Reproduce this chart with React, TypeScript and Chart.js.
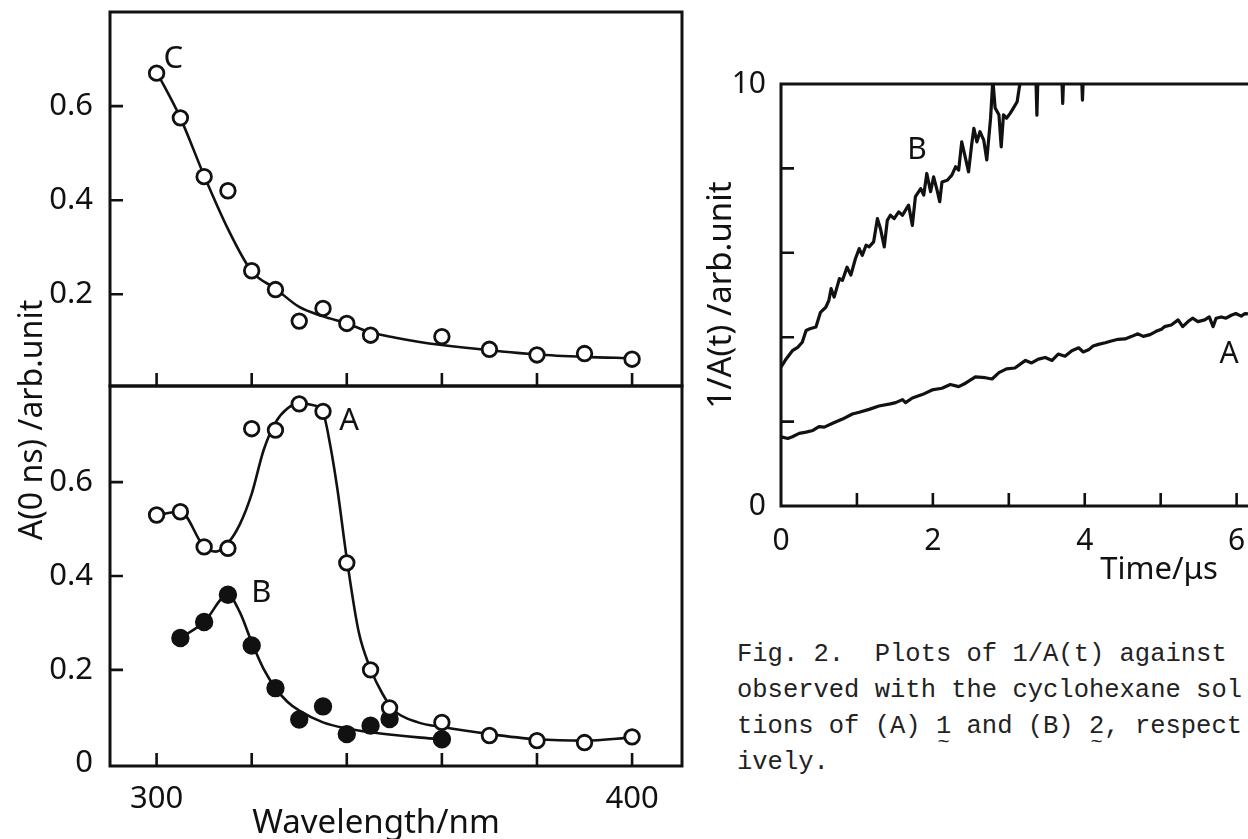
import React, { useEffect, useRef } from 'react';
import { Chart, registerables } from 'chart.js';

Chart.register(...registerables);

const FONT = "'Noto Sans', 'DejaVu Sans', sans-serif";
const INK = '#111';

// ---------- Left, upper panel: curve C ----------
const C_WAVELENGTH = [300, 305, 310, 315, 320, 325, 330, 335, 340, 345, 360, 370, 380, 390, 400];
const C_ABS = [0.67, 0.575, 0.45, 0.42, 0.25, 0.21, 0.143, 0.17, 0.138, 0.113, 0.11, 0.083, 0.071, 0.074, 0.062];
const C_FIT_WAVELENGTH = [300, 305, 310, 315, 320, 325, 330, 335, 340, 345, 350, 355, 360, 370, 380, 390, 400];
const C_FIT_ABS = [0.673, 0.575, 0.452, 0.339, 0.249, 0.212, 0.173, 0.153, 0.138, 0.119, 0.108, 0.099, 0.092, 0.081, 0.072, 0.067, 0.064];

// ---------- Left, lower panel: curves A (open) and B (filled) ----------
const A_WAVELENGTH = [300, 305, 310, 315, 320, 325, 330, 335, 340, 345, 349, 360, 370, 380, 390, 400];
const A_ABS = [0.53, 0.537, 0.462, 0.459, 0.714, 0.711, 0.767, 0.751, 0.428, 0.2, 0.119, 0.088, 0.06, 0.049, 0.045, 0.057];
const A_FIT_WAVELENGTH = [300, 305, 310, 312.5, 315, 317.5, 320, 322.5, 325, 327.5, 330, 332.5, 335, 336.5, 338, 340, 342.5, 345, 347.5, 350, 355, 360, 370, 380, 390, 400];
const A_FIT_ABS = [0.53, 0.537, 0.462, 0.452, 0.47, 0.51, 0.575, 0.668, 0.727, 0.757, 0.768, 0.765, 0.748, 0.68, 0.587, 0.437, 0.281, 0.202, 0.149, 0.113, 0.088, 0.078, 0.063, 0.052, 0.049, 0.056];

const B_WAVELENGTH = [305, 310, 315, 320, 325, 330, 335, 340, 345, 349, 360];
const B_ABS = [0.268, 0.302, 0.36, 0.252, 0.161, 0.094, 0.122, 0.063, 0.081, 0.095, 0.052];
const B_FIT_WAVELENGTH = [305, 310, 315, 317.5, 320, 322.5, 325, 327.5, 330, 335, 340, 345, 350, 355, 360];
const B_FIT_ABS = [0.268, 0.302, 0.36, 0.323, 0.259, 0.202, 0.161, 0.132, 0.113, 0.088, 0.075, 0.067, 0.061, 0.056, 0.052];

const WL_TICKS = [300, 320, 340, 360, 380, 400];
const WL_LABELS = [300, 400];
const ABS_MARKS = [0.2, 0.4, 0.6];
const ABS_LABELS_TOP = [0.2, 0.4, 0.6];
const ABS_LABELS_BOTTOM = [0, 0.2, 0.4, 0.6];

// ---------- Right panel: 1/A(t) vs time ----------
const TIME_A = [0, 0.09, 0.15, 0.24, 0.33, 0.42, 0.5, 0.57, 0.68, 0.81, 0.94, 1.03, 1.16, 1.29, 1.44, 1.51, 1.6, 1.64, 1.73, 1.86, 1.99, 2.12, 2.23, 2.34, 2.43, 2.56, 2.69, 2.78, 2.87, 2.97, 3.08, 3.22, 3.3, 3.39, 3.48, 3.57, 3.65, 3.74, 3.83, 3.92, 3.98, 4.05, 4.11, 4.18, 4.27, 4.35, 4.44, 4.53, 4.62, 4.7, 4.77, 4.86, 4.94, 5.01, 5.05, 5.14, 5.23, 5.29, 5.36, 5.42, 5.49, 5.58, 5.64, 5.69, 5.73, 5.8, 5.86, 5.93, 5.99, 6.06, 6.11, 6.15];
const INV_A = [1.64, 1.6, 1.64, 1.72, 1.75, 1.79, 1.88, 1.87, 1.96, 2.06, 2.18, 2.22, 2.29, 2.37, 2.42, 2.45, 2.52, 2.45, 2.56, 2.64, 2.75, 2.79, 2.88, 2.83, 2.91, 3.06, 3.04, 3.01, 3.16, 3.25, 3.27, 3.45, 3.39, 3.48, 3.52, 3.45, 3.6, 3.55, 3.68, 3.75, 3.65, 3.7, 3.79, 3.83, 3.87, 3.91, 3.95, 3.96, 4.02, 4.08, 4.02, 4.06, 4.14, 4.19, 4.25, 4.29, 4.41, 4.25, 4.37, 4.45, 4.37, 4.41, 4.48, 4.25, 4.45, 4.48, 4.45, 4.52, 4.56, 4.5, 4.56, 4.55];

const TIME_B = [0, 0.07, 0.15, 0.22, 0.28, 0.33, 0.38, 0.46, 0.52, 0.59, 0.63, 0.66, 0.7, 0.77, 0.81, 0.87, 0.92, 0.98, 1.03, 1.07, 1.12, 1.16, 1.22, 1.27, 1.31, 1.36, 1.4, 1.44, 1.49, 1.55, 1.6, 1.64, 1.68, 1.73, 1.77, 1.84, 1.88, 1.92, 1.97, 2.01, 2.06, 2.09, 2.12, 2.19, 2.25, 2.3, 2.34, 2.38, 2.43, 2.47, 2.51, 2.54, 2.58, 2.62, 2.67, 2.71, 2.76, 2.79, 2.82, 2.87, 2.9, 2.93, 2.97, 3.02, 3.06, 3.11, 3.13, 3.15, 3.2, 3.35, 3.37, 3.39, 3.69, 3.71, 3.73, 3.95, 3.97, 3.99, 4.1];
const INV_B = [3.29, 3.49, 3.68, 3.76, 3.88, 4.16, 4.2, 4.24, 4.59, 4.71, 4.87, 5.15, 4.95, 5.39, 5.35, 5.66, 5.47, 5.86, 6.1, 5.94, 6.18, 6.14, 6.26, 6.81, 6.57, 6.14, 6.77, 6.89, 6.81, 6.97, 6.89, 7.01, 7.13, 6.65, 7.33, 7.52, 7.37, 7.88, 7.45, 7.8, 7.45, 7.21, 7.68, 7.72, 7.84, 8.04, 7.96, 8.63, 8.24, 7.92, 8.55, 8.95, 8.63, 8.87, 8.67, 8.2, 9.19, 10.1, 9.43, 9.27, 8.51, 9.27, 9.19, 9.31, 9.43, 9.58, 9.82, 10.05, 10.6, 10.6, 9.26, 10.6, 10.6, 9.54, 10.6, 10.6, 9.62, 10.6, 10.8];

const TIME_MARKS = [1, 2, 3, 4, 5, 6];
const TIME_LABELS = [0, 2, 4, 6];
const INV_MARKS = [2, 4, 6, 8];
const INV_LABELS = [0, 10];

// in-plot curve labels (data coordinates)
const TOP_CURVE_LABELS = [{ text: 'C', x: 303.5, y: 0.7 }];
const BOTTOM_CURVE_LABELS = [
  { text: 'A', x: 340.5, y: 0.73 },
  { text: 'B', x: 322, y: 0.363 },
];
const RIGHT_CURVE_LABELS = [
  { text: 'B', x: 1.79, y: 8.42 },
  { text: 'A', x: 5.9, y: 3.58 },
];

const pts = (xs: number[], ys: number[]) => xs.map((x, i) => ({ x, y: ys[i] }));

type Label = { text: string; x: number; y: number };
type Free = { text: string; px: number; py: number; size: number; rot?: number };
type Deco = {
  xMarks: number[];
  yMarks: number[];
  markLen: number;
  box: 'full' | 'open';
  labels: Label[];
  labelSize: number;
  free: Free[];
};

function decoPlugin(d: Deco) {
  return {
    id: 'deco',
    afterDatasetsDraw(chart: any) {
      const { ctx, chartArea: a, scales } = chart;
      const xs = scales.x;
      const ys = scales.y;
      ctx.save();
      ctx.strokeStyle = INK;
      ctx.lineWidth = 3;
      ctx.lineCap = 'square';
      ctx.beginPath();
      if (d.box === 'full') {
        ctx.rect(a.left, a.top, a.right - a.left, a.bottom - a.top);
      } else {
        ctx.moveTo(a.right + 4, a.top);
        ctx.lineTo(a.left, a.top);
        ctx.lineTo(a.left, a.bottom);
        ctx.lineTo(a.right + 4, a.bottom);
      }
      ctx.stroke();
      ctx.lineWidth = 2.6;
      ctx.lineCap = 'butt';
      ctx.beginPath();
      for (const v of d.xMarks) {
        const p = xs.getPixelForValue(v);
        ctx.moveTo(p, a.bottom);
        ctx.lineTo(p, a.bottom - d.markLen);
      }
      for (const v of d.yMarks) {
        const p = ys.getPixelForValue(v);
        ctx.moveTo(a.left, p);
        ctx.lineTo(a.left + d.markLen, p);
      }
      ctx.stroke();
      ctx.fillStyle = INK;
      ctx.textAlign = 'center';
      ctx.textBaseline = 'middle';
      ctx.font = `${d.labelSize}px ${FONT}`;
      for (const t of d.labels) {
        ctx.fillText(t.text, xs.getPixelForValue(t.x), ys.getPixelForValue(t.y));
      }
      for (const t of d.free) {
        ctx.save();
        ctx.translate(t.px, t.py);
        if (t.rot) ctx.rotate(t.rot);
        ctx.font = `${t.size}px ${FONT}`;
        ctx.fillText(t.text, 0, 0);
        ctx.restore();
      }
      ctx.restore();
    },
  };
}

const fmtAbs = (v: number) => (v === 0 ? '0' : v.toFixed(1));

function yAxis(min: number, max: number, labels: number[], width: number, pad: number, size: number, fmt: (v: number) => string, extra: any = {}) {
  return {
    type: 'linear',
    min,
    max,
    afterFit: (s: any) => {
      s.width = width;
      s.paddingTop = 0;
      s.paddingBottom = 0;
    },
    afterBuildTicks: (s: any) => {
      s.ticks = labels.map((v) => ({ value: v }));
    },
    grid: { display: false, drawTicks: false },
    border: { display: false },
    ticks: { padding: pad, color: INK, font: { family: FONT, size }, autoSkip: false, callback: (v: any) => fmt(Number(v)) },
    ...extra,
  };
}

function xAxis(min: number, max: number, labels: number[], height: number, pad: number, size: number) {
  return {
    type: 'linear',
    min,
    max,
    afterFit: (s: any) => {
      s.height = height;
      s.paddingLeft = 0;
      s.paddingRight = 0;
    },
    afterBuildTicks: (s: any) => {
      s.ticks = labels.map((v) => ({ value: v }));
    },
    grid: { display: false, drawTicks: false },
    border: { display: false },
    ticks: { padding: pad, color: INK, font: { family: FONT, size }, autoSkip: false, maxRotation: 0, callback: (v: any) => String(v) },
  };
}

const common = {
  responsive: false,
  animation: false,
  devicePixelRatio: 1,
  events: [],
  plugins: { legend: { display: false }, tooltip: { enabled: false } },
};

const openPoints = (data: any) => ({
  data,
  showLine: false,
  pointStyle: 'circle',
  pointRadius: 7.3,
  pointBorderWidth: 2.8,
  pointBackgroundColor: '#fff',
  pointBorderColor: INK,
  order: 0,
});
const filledPoints = (data: any) => ({ ...openPoints(data), pointBackgroundColor: INK, pointRadius: 7.8 });
const fitCurve = (data: any) => ({
  data,
  pointRadius: 0,
  borderColor: INK,
  borderWidth: 2.6,
  cubicInterpolationMode: 'monotone',
  fill: false,
  order: 1,
});
const trace = (data: any, clip?: number) => ({
  data,
  pointRadius: 0,
  borderColor: INK,
  borderWidth: 3.2,
  tension: 0,
  borderJoinStyle: 'round',
  fill: false,
  ...(clip !== undefined ? { clip } : {}),
});

export default function App() {
  const topRef = useRef<HTMLCanvasElement>(null);
  const botRef = useRef<HTMLCanvasElement>(null);
  const rightRef = useRef<HTMLCanvasElement>(null);

  useEffect(() => {
    const charts: Chart[] = [];

    charts.push(
      new Chart(topRef.current as HTMLCanvasElement, {
        type: 'line',
        data: {
          datasets: [openPoints(pts(C_WAVELENGTH, C_ABS)), fitCurve(pts(C_FIT_WAVELENGTH, C_FIT_ABS))] as any,
        },
        options: {
          ...common,
          layout: { padding: { top: 12, right: 18, bottom: 453, left: 0 } },
          scales: {
            x: { type: 'linear', min: 290.2, max: 410.5, display: false },
            y: yAxis(0.005, 0.8, ABS_LABELS_TOP, 110, 17, 31, fmtAbs),
          },
        } as any,
        plugins: [
          decoPlugin({
            xMarks: WL_TICKS,
            yMarks: ABS_MARKS,
            markLen: 13,
            box: 'full',
            labels: TOP_CURVE_LABELS,
            labelSize: 31,
            free: [{ text: 'A(0 ns) /arb.unit', px: 33, py: 420, size: 32, rot: -Math.PI / 2 }],
          }),
        ],
      })
    );

    charts.push(
      new Chart(botRef.current as HTMLCanvasElement, {
        type: 'line',
        data: {
          datasets: [
            openPoints(pts(A_WAVELENGTH, A_ABS)),
            filledPoints(pts(B_WAVELENGTH, B_ABS)),
            fitCurve(pts(A_FIT_WAVELENGTH, A_FIT_ABS)),
            fitCurve(pts(B_FIT_WAVELENGTH, B_FIT_ABS)),
          ] as any,
        },
        options: {
          ...common,
          layout: { padding: { top: 16, right: 18, bottom: 0, left: 0 } },
          scales: {
            x: xAxis(290.2, 410.5, WL_LABELS, 73, 15, 31),
            y: yAxis(-0.005, 0.805, ABS_LABELS_BOTTOM, 110, 17, 31, fmtAbs),
          },
        } as any,
        plugins: [
          decoPlugin({
            xMarks: WL_TICKS,
            yMarks: ABS_MARKS,
            markLen: 13,
            box: 'full',
            labels: BOTTOM_CURVE_LABELS,
            labelSize: 31,
            free: [{ text: 'Wavelength/nm', px: 376, py: 454, size: 33 }],
          }),
        ],
      })
    );

    charts.push(
      new Chart(rightRef.current as HTMLCanvasElement, {
        type: 'line',
        data: {
          datasets: [trace(pts(TIME_A, INV_A)), trace(pts(TIME_B, INV_B), 0)] as any,
        },
        options: {
          ...common,
          layout: { padding: { top: 84, right: 0, bottom: 0, left: 0 } },
          scales: {
            x: xAxis(0, 6.15, TIME_LABELS, 114, 17, 30),
            y: yAxis(0, 10, INV_LABELS, 81, 15, 30, (v) => String(v), {
              title: { display: true, text: '1/A(t) /arb.unit', color: INK, font: { family: FONT, size: 33 }, padding: { top: 2, bottom: 0 } },
            }),
          },
        } as any,
        plugins: [
          decoPlugin({
            xMarks: TIME_MARKS,
            yMarks: INV_MARKS,
            markLen: 13,
            box: 'open',
            labels: RIGHT_CURVE_LABELS,
            labelSize: 30,
            free: [{ text: 'Time/\u03bcs', px: 459, py: 570, size: 31 }],
          }),
        ],
      })
    );

    return () => charts.forEach((c) => c.destroy());
  }, []);

  const tilde = (n: string) => (
    <span style={{ position: 'relative' }}>
      {n}
      <span style={{ position: 'absolute', left: '50%', top: '0.62em', transform: 'translateX(-50%)', fontSize: '0.8em' }}>~</span>
    </span>
  );

  return (
    <div style={{ position: 'absolute', left: 0, top: 0, width: 1248, height: 839, overflow: 'hidden', background: '#fff' }}>
      <canvas ref={topRef} width={700} height={839} style={{ position: 'absolute', left: 0, top: 0 }} />
      <canvas ref={botRef} width={700} height={469} style={{ position: 'absolute', left: 0, top: 370 }} />
      <canvas ref={rightRef} width={548} height={620} style={{ position: 'absolute', left: 700, top: 0 }} />
      <div
        style={{
          position: 'absolute',
          left: 737,
          top: 637,
          fontFamily: "'Liberation Mono', monospace",
          fontSize: 25.5,
          lineHeight: '36px',
          color: '#222',
          whiteSpace: 'pre',
        }}
      >
        <div>Fig. 2.  Plots of 1/A(t) against</div>
        <div>observed with the cyclohexane sol</div>
        <div>
          tions of (A) {tilde('1')} and (B) {tilde('2')}, respect
        </div>
        <div>ively.</div>
      </div>
    </div>
  );
}
